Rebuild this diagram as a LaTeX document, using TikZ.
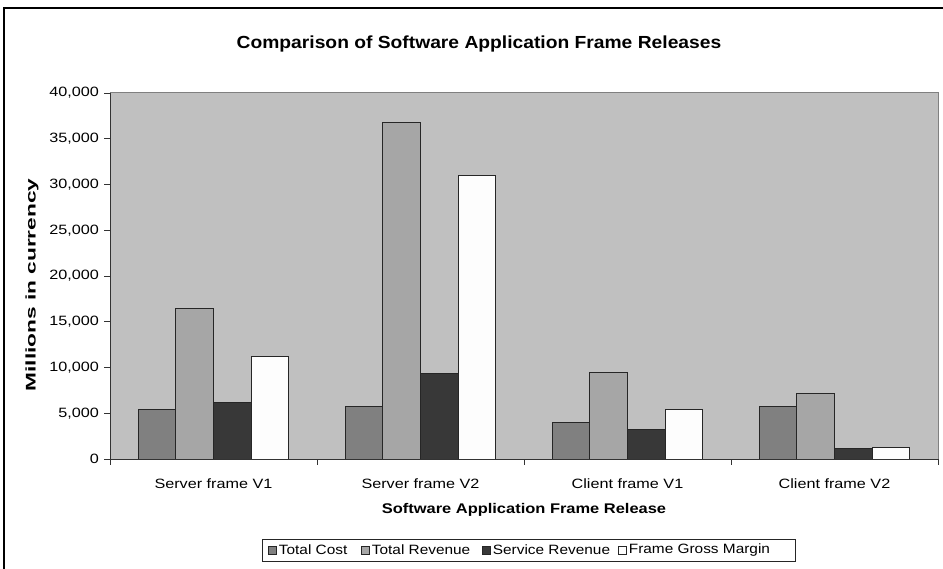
\documentclass[tikz,border=0pt]{standalone}
\usepackage{fontspec}
\setmainfont{Liberation Sans}
\definecolor{plotbg}{HTML}{C0C0C0}
\definecolor{plotedge}{HTML}{808080}
\definecolor{costc}{HTML}{808080}
\definecolor{revc}{HTML}{A6A6A6}
\definecolor{servc}{HTML}{383838}
\definecolor{marginc}{HTML}{FDFDFD}
% horizontally stretched text
\newcommand{\wide}[2][1.2]{\scalebox{#1}[1]{#2}}
\begin{document}
\begin{tikzpicture}[x=1pt,y=-1pt,
  txt/.style={font=\fontsize{13.5}{15}\selectfont, inner sep=0pt},
  boldtxt/.style={font=\fontsize{14}{16}\selectfont\bfseries, inner sep=0pt},
  bar/.style={draw=black!85, line width=0.9pt},
  keybox/.style={draw=black!85, line width=0.7pt, minimum size=8pt, inner sep=0pt},
  tickmark/.style={draw=black!80, line width=0.9pt}]
\useasboundingbox (0,0) rectangle (943,569);
\fill[white] (0,0) rectangle (943,569);
% chart frame
\draw[line width=1.3pt] (4,8) rectangle (950,580);

% title
\node[font=\fontsize{17.5}{19}\selectfont\bfseries, inner sep=0pt] (title) at (479,44) {\wide[1.1]{Comparison of Software Application Frame Releases}};

% plot area
\fill[plotbg] (110,93) rectangle (938,459);
\draw[plotedge, line width=1pt] (110,93) -- (938,93) -- (938,459);

% bars: category / series / value in thousands
\foreach \c/\s/\v/\col in {
  0/0/5.4/costc, 0/1/16.5/revc, 0/2/6.2/servc, 0/3/11.25/marginc,
  1/0/5.7/costc, 1/1/36.8/revc, 1/2/9.4/servc, 1/3/31.0/marginc,
  2/0/3.95/costc, 2/1/9.5/revc, 2/2/3.2/servc, 2/3/5.4/marginc,
  3/0/5.7/costc, 3/1/7.15/revc, 3/2/1.15/servc, 3/3/1.3/marginc}{
  \draw[bar, fill=\col] ({110+207*\c+28.2+37.6*\s},459) rectangle ++(37.6,{-9.15*\v});
}

% axes
\draw[black!80, line width=1pt] (110,93) -- (110,459) -- (938,459);
\foreach \k/\t in {0/0, 1/{5,000}, 2/{10,000}, 3/{15,000}, 4/{20,000},
                   5/{25,000}, 6/{30,000}, 7/{35,000}, 8/{40,000}}{
  \draw[tickmark] (104,{459-45.75*\k}) -- (110,{459-45.75*\k});
  \node[txt, anchor=east] (ylab\k) at (99,{459-45.75*\k}) {\wide{\t}};
}
\foreach \i in {0,...,4}{
  \draw[tickmark] ({110+207*\i},459) -- ++(0,6);
}

% category labels
\foreach \i/\t in {0/Server frame V1, 1/Server frame V2, 2/Client frame V1, 3/Client frame V2}{
  \node[txt] (cat\i) at ({213.5+207*\i},484) {\wide{\t}};
}

% axis titles
\node[boldtxt] (xtitle) at (524,510) {\wide[1.175]{Software Application Frame Release}};
\node[boldtxt, rotate=90] (ytitle) at (32,285) {\wide[1.62]{Millions in currency}};

% legend
\node[draw=black!85, line width=0.9pt, minimum width=533pt, minimum height=22pt, inner sep=0pt] (legend) at (528.5,550) {};
\foreach \x/\col/\t [count=\n] in {268/costc/Total Cost, 361/revc/Total Revenue,
                                   482/servc/Service Revenue, 618/marginc/Frame Gross Margin}{
  \node[keybox, fill=\col, anchor=west] (key\n) at (\x,550) {};
  \node[txt, anchor=west] (keytext\n) at ([xshift=2pt]key\n.east) {\wide[1.14]{\t}};
}
\end{tikzpicture}
\end{document}
